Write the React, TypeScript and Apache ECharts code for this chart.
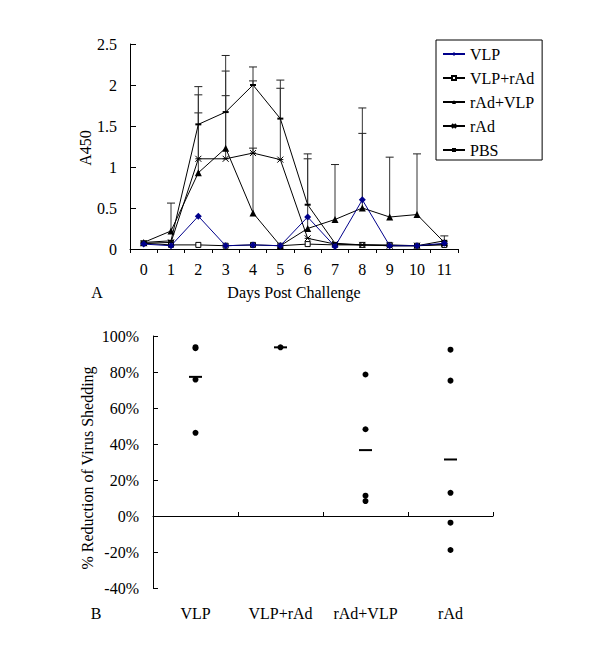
import React, { useEffect, useRef } from "react";
import * as echarts from "echarts";

const days = ["0", "1", "2", "3", "4", "5", "6", "7", "8", "9", "10", "11"];
const vlp = [0.06, 0.04, 0.4, 0.04, 0.05, 0.04, 0.39, 0.03, 0.6, 0.04, 0.04, 0.07];
const vlpRad = [0.07, 0.05, 0.05, 0.04, 0.05, 0.04, 0.06, 0.05, 0.05, 0.05, 0.04, 0.05];
const radVlp = [0.08, 0.22, 0.93, 1.23, 0.44, 0.04, 0.25, 0.36, 0.5, 0.39, 0.42, 0.08];
const rad = [0.07, 0.08, 1.1, 1.1, 1.17, 1.09, 0.13, 0.06, 0.05, 0.04, 0.04, 0.06];
const pbs = [0.08, 0.1, 1.52, 1.67, 2.0, 1.59, 0.54, 0.07, 0.05, 0.04, 0.04, 0.1];

const vlpErr = [null, null, null, null, null, null, null, null, 1.72, null, null, null];
const radVlpErr = [null, 0.56, 1.66, 2.17, 1.23, null, 1.1, 1.03, 1.41, 1.12, 1.16, 0.16];
const radErr = [null, null, 1.88, 1.87, 2.05, 1.96, null, null, null, null, null, null];
const pbsErr = [null, null, 1.98, 2.36, 2.22, 2.06, 1.16, null, null, null, null, null];

const groups = ["VLP", "VLP+rAd", "rAd+VLP", "rAd"];
const ptsVLP = [93.2, 93.8, 75.8, 46.2];
const ptsVLPrAd = [93.7];
const ptsrAdVLP = [78.6, 48.2, 11.3, 8.3];
const ptsrAd = [92.4, 75.2, 12.9, -3.7, -18.9];
const groupMeans = [77.3, 93.7, 36.6, 31.4];

const serif = "'Liberation Serif', 'Times New Roman', serif";

export default function App() {
  const ref = useRef<HTMLDivElement>(null);
  useEffect(() => {
    if (!ref.current) return;
    const chart = echarts.init(ref.current, null, { renderer: "svg" });

    const errData: any[] = [];
    [vlpErr, radVlpErr, radErr, pbsErr].forEach((arr, si) => {
      const base = [vlp, radVlp, rad, pbs][si];
      arr.forEach((h, i) => {
        if (h != null) errData.push([i, base[i], h]);
      });
    });

    const scatterData: any[] = [];
    [ptsVLP, ptsVLPrAd, ptsrAdVLP, ptsrAd].forEach((arr, gi) => {
      arr.forEach((v) => scatterData.push([gi, v]));
    });

    const txt = { color: "#000", fontFamily: serif, fontSize: 16 };

    const option: any = {
      animation: false,
      textStyle: { fontFamily: serif },
      grid: [
        { left: 130, top: 44, width: 328, height: 205, containLabel: false },
        { left: 153, top: 336, width: 340, height: 252, containLabel: false },
      ],
      xAxis: [
        {
          gridIndex: 0,
          type: "category",
          data: days,
          position: "bottom",
          boundaryGap: true,
          axisLine: { show: true, onZero: false, lineStyle: { color: "#000", width: 1 } },
          axisTick: { show: true, inside: false, length: 4, lineStyle: { color: "#000" } },
          axisLabel: { ...txt, margin: 12 },
          splitLine: { show: false },
        },
        {
          gridIndex: 1,
          type: "category",
          data: groups,
          position: "top",
          boundaryGap: true,
          axisLine: { show: true, onZero: true, lineStyle: { color: "#000", width: 1 } },
          axisTick: { show: true, inside: false, length: 4, lineStyle: { color: "#000" } },
          axisLabel: { show: false },
          splitLine: { show: false },
        },
        {
          gridIndex: 1,
          type: "category",
          data: groups,
          position: "bottom",
          boundaryGap: true,
          axisLine: { show: false, onZero: false },
          axisTick: { show: false },
          axisLabel: { ...txt, margin: 17 },
          splitLine: { show: false },
        },
      ],
      yAxis: [
        {
          gridIndex: 0,
          type: "value",
          min: 0,
          max: 2.5,
          interval: 0.5,
          axisLine: { show: true, lineStyle: { color: "#000", width: 1 } },
          axisTick: { show: true, inside: true, length: 6, lineStyle: { color: "#000" } },
          axisLabel: { ...txt, margin: 13 },
          splitLine: { show: false },
        },
        {
          gridIndex: 1,
          type: "value",
          min: -40,
          max: 100,
          interval: 20,
          axisLine: { show: true, onZero: false, lineStyle: { color: "#000", width: 1 } },
          axisTick: { show: true, inside: true, length: 5, lineStyle: { color: "#000" } },
          axisLabel: { ...txt, margin: 14, formatter: "{value}%" },
          splitLine: { show: false },
        },
      ],
      legend: {
        data: ["VLP", "VLP+rAd", "rAd+VLP", "rAd", "PBS"],
        orient: "vertical",
        left: 436,
        top: 40,
        padding: [6, 8, 2, 6],
        itemGap: 8,
        itemWidth: 22,
        itemHeight: 5,
        borderColor: "#000",
        borderWidth: 1,
        textStyle: { ...txt, lineHeight: 16 },
      },
      series: [
        {
          type: "custom",
          xAxisIndex: 0,
          yAxisIndex: 0,
          data: errData,
          z: 1,
          renderItem: (params: any, api: any) => {
            const x = api.value(0);
            const p0 = api.coord([x, api.value(1)]);
            const p1 = api.coord([x, api.value(2)]);
            const hw = 4;
            return {
              type: "group",
              children: [
                {
                  type: "line",
                  shape: { x1: p0[0], y1: p0[1], x2: p1[0], y2: p1[1] },
                  style: { stroke: "#333", lineWidth: 1 },
                },
                {
                  type: "line",
                  shape: { x1: p1[0] - hw, y1: p1[1], x2: p1[0] + hw, y2: p1[1] },
                  style: { stroke: "#222", lineWidth: 1 },
                },
              ],
            };
          },
        },
        {
          name: "VLP",
          type: "line",
          xAxisIndex: 0,
          yAxisIndex: 0,
          data: vlp,
          z: 5,
          symbol: "diamond",
          symbolSize: 7,
          lineStyle: { color: "#00008b", width: 1 },
          itemStyle: { color: "#00008b" },
        },
        {
          name: "VLP+rAd",
          type: "line",
          xAxisIndex: 0,
          yAxisIndex: 0,
          data: vlpRad,
          z: 3,
          symbol: "rect",
          symbolSize: 5,
          lineStyle: { color: "#000", width: 1 },
          itemStyle: { color: "#fff", borderColor: "#000", borderWidth: 1 },
        },
        {
          name: "rAd+VLP",
          type: "line",
          xAxisIndex: 0,
          yAxisIndex: 0,
          data: radVlp,
          z: 3,
          symbol: "triangle",
          symbolSize: 7,
          lineStyle: { color: "#000", width: 1 },
          itemStyle: { color: "#000" },
        },
        {
          name: "rAd",
          type: "line",
          xAxisIndex: 0,
          yAxisIndex: 0,
          data: rad,
          z: 3,
          symbol: "path://M0,0L8,8M8,0L0,8M0,4L8,4",
          symbolSize: 6,
          symbolKeepAspect: true,
          lineStyle: { color: "#000", width: 1 },
          itemStyle: { color: "#000", borderColor: "#000", borderWidth: 1 },
        },
        {
          name: "PBS",
          type: "line",
          xAxisIndex: 0,
          yAxisIndex: 0,
          data: pbs,
          z: 3,
          symbol: "rect",
          symbolSize: [6, 2],
          lineStyle: { color: "#000", width: 1 },
          itemStyle: { color: "#000" },
        },
        {
          name: "points",
          type: "scatter",
          xAxisIndex: 2,
          yAxisIndex: 1,
          data: scatterData,
          symbol: "circle",
          symbolSize: 6,
          itemStyle: { color: "#000", opacity: 1 },
        },
        {
          name: "means",
          type: "scatter",
          xAxisIndex: 2,
          yAxisIndex: 1,
          data: groupMeans.map((v, i) => [i, v]),
          symbol: "rect",
          symbolSize: [13, 2],
          itemStyle: { color: "#000", opacity: 1 },
        },
      ],
      graphic: [
        {
          type: "text",
          x: 85,
          y: 148,
          rotation: Math.PI / 2,
          style: { text: "A450", fill: "#000", font: `16px ${serif}`, textAlign: "center", textVerticalAlign: "middle" },
        },
        {
          type: "text",
          x: 294,
          y: 292,
          style: { text: "Days Post Challenge", fill: "#000", font: `16px ${serif}`, textAlign: "center", textVerticalAlign: "middle" },
        },
        {
          type: "text",
          x: 97,
          y: 292,
          style: { text: "A", fill: "#000", font: `16px ${serif}`, textAlign: "center", textVerticalAlign: "middle" },
        },
        {
          type: "text",
          x: 87,
          y: 468,
          rotation: Math.PI / 2,
          style: { text: "% Reduction of Virus Shedding", fill: "#000", font: `16px ${serif}`, textAlign: "center", textVerticalAlign: "middle" },
        },
        {
          type: "text",
          x: 96,
          y: 613,
          style: { text: "B", fill: "#000", font: `16px ${serif}`, textAlign: "center", textVerticalAlign: "middle" },
        },
      ],
    };
    chart.setOption(option);
    return () => chart.dispose();
  }, []);
  return (
    <div
      ref={ref}
      style={{ position: "absolute", left: 0, top: 0, width: 600, height: 657, background: "#fff" }}
    />
  );
}
